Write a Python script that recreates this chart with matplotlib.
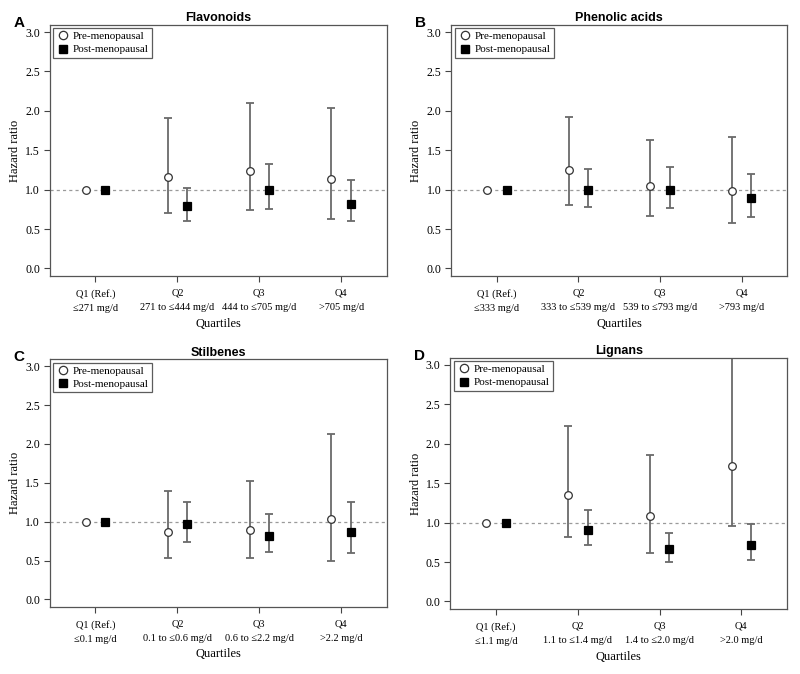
import numpy as np
import matplotlib
matplotlib.use('Agg')
import matplotlib.pyplot as plt
from matplotlib.lines import Line2D

plt.rcParams['font.family'] = ['Liberation Serif', 'DejaVu Serif']

quartiles = ['Q1 (Ref.)', 'Q2', 'Q3', 'Q4']

titles = ['Flavonoids', 'Phenolic acids', 'Stilbenes', 'Lignans']
letters = ['A', 'B', 'C', 'D']

ranges = [
    ['≤271 mg/d', '271 to ≤444 mg/d', '444 to ≤705 mg/d', '>705 mg/d'],
    ['≤333 mg/d', '333 to ≤539 mg/d', '539 to ≤793 mg/d', '>793 mg/d'],
    ['≤0.1 mg/d', '0.1 to ≤0.6 mg/d', '0.6 to ≤2.2 mg/d', '>2.2 mg/d'],
    ['≤1.1 mg/d', '1.1 to ≤1.4 mg/d', '1.4 to ≤2.0 mg/d', '>2.0 mg/d'],
]

# hazard ratio, lower CI, upper CI  (Q1 is reference, no CI)
pre_hr = [[1.00, 1.16, 1.24, 1.14],
          [1.00, 1.25, 1.04, 0.98],
          [1.00, 0.87, 0.90, 1.03],
          [1.00, 1.35, 1.08, 1.72]]
pre_lo = [[1.00, 0.71, 0.74, 0.63],
          [1.00, 0.81, 0.67, 0.58],
          [1.00, 0.54, 0.53, 0.50],
          [1.00, 0.82, 0.62, 0.96]]
pre_hi = [[1.00, 1.91, 2.10, 2.04],
          [1.00, 1.92, 1.63, 1.67],
          [1.00, 1.40, 1.52, 2.13],
          [1.00, 2.22, 1.86, 3.40]]

post_hr = [[1.00, 0.79, 1.00, 0.82],
           [1.00, 0.99, 1.00, 0.89],
           [1.00, 0.97, 0.82, 0.87],
           [1.00, 0.91, 0.66, 0.72]]
post_lo = [[1.00, 0.60, 0.76, 0.60],
           [1.00, 0.78, 0.77, 0.65],
           [1.00, 0.74, 0.61, 0.60],
           [1.00, 0.71, 0.50, 0.53]]
post_hi = [[1.00, 1.02, 1.32, 1.12],
           [1.00, 1.26, 1.29, 1.20],
           [1.00, 1.26, 1.10, 1.26],
           [1.00, 1.16, 0.87, 0.98]]

fig = plt.figure(figsize=(8.0, 6.74), dpi=100)
positions = [
    [0.062, 0.590, 0.422, 0.373],
    [0.564, 0.590, 0.420, 0.373],
    [0.062, 0.099, 0.422, 0.368],
    [0.563, 0.096, 0.421, 0.373],
]

err_col = '#6a6a6a'
x = np.arange(1, 5)
off = 0.12

for i in range(4):
    ax = fig.add_axes(positions[i])
    ax.axhline(1.0, color='#9a9a9a', lw=0.9, ls=(0, (2.5, 2.5)), zorder=1)

    for xs, hr, lo, hi, mk, fc in [
        (x - off, pre_hr[i], pre_lo[i], pre_hi[i], 'o', 'white'),
        (x + off, post_hr[i], post_lo[i], post_hi[i], 's', 'black'),
    ]:
        hr = np.array(hr)
        lo = np.array(lo)
        hi = np.array(hi)
        yerr = np.vstack([hr - lo, hi - hr])
        ax.errorbar(xs[1:], hr[1:], yerr=yerr[:, 1:], fmt='none', ecolor=err_col,
                    elinewidth=1.3, capsize=2.6, capthick=1.3, zorder=2)
        ax.plot(xs, hr, ls='none', marker=mk, ms=5.5, mfc=fc,
                mec='#333333' if mk == 'o' else 'black', mew=0.9, zorder=3)

    ax.set_xlim(0.44, 4.56)
    ax.set_ylim(-0.1, 3.09)
    ax.set_yticks(np.arange(0, 3.01, 0.5))
    ax.set_yticklabels([f'{v:.1f}' for v in np.arange(0, 3.01, 0.5)], fontsize=8.5)
    ax.set_xticks(x)
    ax.set_xticklabels([f'{q}\n{r}' for q, r in zip(quartiles, ranges[i])], fontsize=7.5,
                       linespacing=1.8)
    ax.tick_params(axis='both', direction='out', length=4, width=0.8, color='#444444', pad=3)
    ax.tick_params(axis='x', pad=5)
    for s in ax.spines.values():
        s.set_color('#555555')
        s.set_linewidth(0.9)
    ax.set_xlabel('Quartiles', fontsize=9, labelpad=3)
    ax.set_ylabel('Hazard ratio', fontsize=9, labelpad=3)
    ax.set_title(titles[i], fontsize=9, fontweight='bold', family='Liberation Sans', pad=2.5)
    ax.text(-0.108, 0.992, letters[i], transform=ax.transAxes, fontsize=11, fontweight='bold',
            family='Liberation Sans', ha='left', va='baseline')

    handles = [
        Line2D([], [], ls='none', marker='o', ms=6, mfc='white', mec='#333333', mew=0.9),
        Line2D([], [], ls='none', marker='s', ms=6, mfc='black', mec='black'),
    ]
    leg = ax.legend(handles, ['Pre-menopausal', 'Post-menopausal'], loc='upper left',
                    fontsize=8, frameon=True, fancybox=False, borderpad=0.3,
                    handletextpad=0.3, handlelength=1.2, labelspacing=0.3,
                    borderaxespad=0.3, edgecolor='#333333')
    leg.get_frame().set_linewidth(0.9)

fig.savefig('out.png', dpi=100)
